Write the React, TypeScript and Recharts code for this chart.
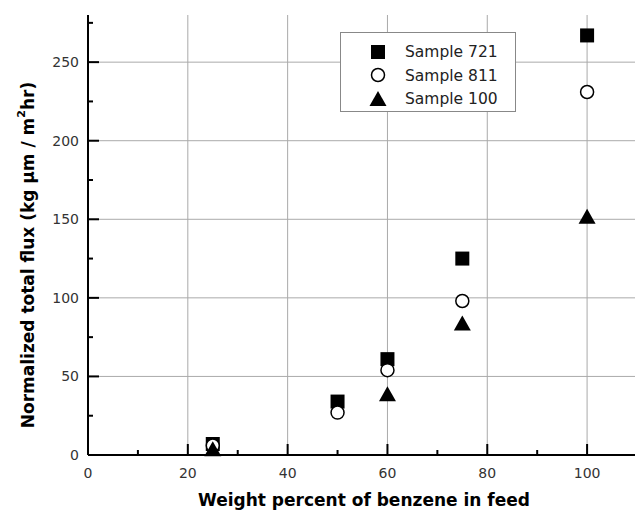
import { CartesianGrid, Scatter, ScatterChart, XAxis, YAxis } from 'recharts';

const feed = [25, 50, 60, 75, 100];
const sample721 = [7, 34, 61, 125, 267];
const sample811 = [6, 27, 54, 98, 231];
const feed100 = [25, 60, 75, 100];
const sample100 = [3, 38, 83, 151];

const xTicks = [0, 10, 20, 30, 40, 50, 60, 70, 80, 90, 100, 110];
const yTicks = [0, 25, 50, 75, 100, 125, 150, 175, 200, 225, 250, 275];
const xGrid = [20, 40, 60, 80, 100];
const yGrid = [50, 100, 150, 200, 250];

const seriesNames = ['Sample 721', 'Sample 811', 'Sample 100'];

const data721 = feed.map((x, i) => ({ x, y: sample721[i] }));
const data811 = feed.map((x, i) => ({ x, y: sample811[i] }));
const data100 = feed100.map((x, i) => ({ x, y: sample100[i] }));

const tickFont = { fontFamily: 'DejaVu Sans', fontSize: 14, fill: '#333' };
const titleFont = { fontFamily: 'DejaVu Sans', fontSize: 17, fontWeight: 'bold', fill: '#000' };

const XTick = (props: any) => {
  const { x, y, payload } = props;
  const v = payload.value;
  const major = v % 20 === 0;
  return (
    <g>
      {v > 0 && v < 110 && (
        <line x1={x} x2={x} y1={y} y2={y - (major ? 11 : 5)} stroke="#000" strokeWidth={2} />
      )}
      {major && v <= 100 && (
        <text x={x} y={y + 23} textAnchor="middle" {...tickFont}>
          {v}
        </text>
      )}
    </g>
  );
};

const YTick = (props: any) => {
  const { x, y, payload } = props;
  const v = payload.value;
  const major = v % 50 === 0;
  return (
    <g>
      {v > 0 && (
        <line x1={x} x2={x + (major ? 11 : 5)} y1={y} y2={y} stroke="#000" strokeWidth={2} />
      )}
      {major && (
        <text x={x - 9} y={y + 5} textAnchor="end" {...tickFont}>
          {v}
        </text>
      )}
    </g>
  );
};

const Square = (props: any) => (
  <rect x={props.cx - 7} y={props.cy - 7} width={14} height={14} fill="#000" />
);
const Circle = (props: any) => (
  <circle cx={props.cx} cy={props.cy} r={6.5} fill="#fff" stroke="#000" strokeWidth={1.5} />
);
const Triangle = (props: any) => (
  <path
    d={`M${props.cx},${props.cy - 9} L${props.cx + 8.5},${props.cy + 6} L${props.cx - 8.5},${props.cy + 6} Z`}
    fill="#000"
  />
);

const icons = [
  <rect x={1} y={1} width={14} height={14} fill="#000" />,
  <circle cx={8} cy={8} r={6.5} fill="#fff" stroke="#000" strokeWidth={1.5} />,
  <path d="M8,0 L16.5,15 L-0.5,15 Z" fill="#000" />
];

const YTitle = () => (
  <text transform="rotate(-90, 28, 255)" x={28} y={255} textAnchor="middle" dominantBaseline="central" {...titleFont}>
    Normalized total flux (kg μm / m
    <tspan dy={-7} fontSize={11}>2</tspan>
    <tspan dy={7}>hr)</tspan>
  </text>
);

const XTitle = () => (
  <text x={364} y={506} textAnchor="middle" {...titleFont}>
    Weight percent of benzene in feed
  </text>
);

export default function App() {
  return (
    <div style={{ position: 'absolute', left: 0, top: 0, width: 635, height: 511, overflow: 'hidden', background: '#fff' }}>
      <ScatterChart width={640} height={511} margin={{ top: 15, right: 3, bottom: 0, left: 0 }}>
        <CartesianGrid stroke="#aaa" strokeWidth={1} verticalValues={xGrid} horizontalValues={yGrid} />
        <XAxis
          type="number"
          dataKey="x"
          domain={[0, 110]}
          ticks={xTicks}
          interval={0}
          height={56}
          tickSize={0}
          tickMargin={0}
          tickLine={false}
          axisLine={{ stroke: '#000', strokeWidth: 2 }}
          tick={<XTick />}
          label={<XTitle />}
        />
        <XAxis
          xAxisId="top"
          orientation="top"
          type="number"
          domain={[0, 110]}
          height={0}
          tick={false}
          tickLine={false}
          axisLine={{ stroke: '#000', strokeWidth: 2 }}
        />
        <YAxis
          type="number"
          dataKey="y"
          domain={[0, 280]}
          ticks={yTicks}
          interval={0}
          width={88}
          tickSize={0}
          tickMargin={0}
          tickLine={false}
          axisLine={{ stroke: '#000', strokeWidth: 2 }}
          tick={<YTick />}
          label={<YTitle />}
        />
        <Scatter name={seriesNames[0]} data={data721} shape={<Square />} isAnimationActive={false} />
        <Scatter name={seriesNames[1]} data={data811} shape={<Circle />} isAnimationActive={false} />
        <Scatter name={seriesNames[2]} data={data100} shape={<Triangle />} isAnimationActive={false} />
      </ScatterChart>
      <div
        style={{
          position: 'absolute',
          left: 340,
          top: 32,
          width: 174,
          height: 78,
          border: '1.5px solid #888',
          background: '#fff',
          boxSizing: 'content-box'
        }}
      >
        {seriesNames.map((name, i) => (
          <div
            key={name}
            style={{
              position: 'absolute',
              left: 29,
              top: 10 + i * 23.5,
              height: 18,
              display: 'flex',
              alignItems: 'center',
              fontFamily: 'DejaVu Sans',
              fontSize: 15.5,
              color: '#222',
              whiteSpace: 'nowrap'
            }}
          >
            <svg width={17} height={17} style={{ overflow: 'visible', marginRight: 18 }}>
              {icons[i]}
            </svg>
            {name}
          </div>
        ))}
      </div>
    </div>
  );
}
